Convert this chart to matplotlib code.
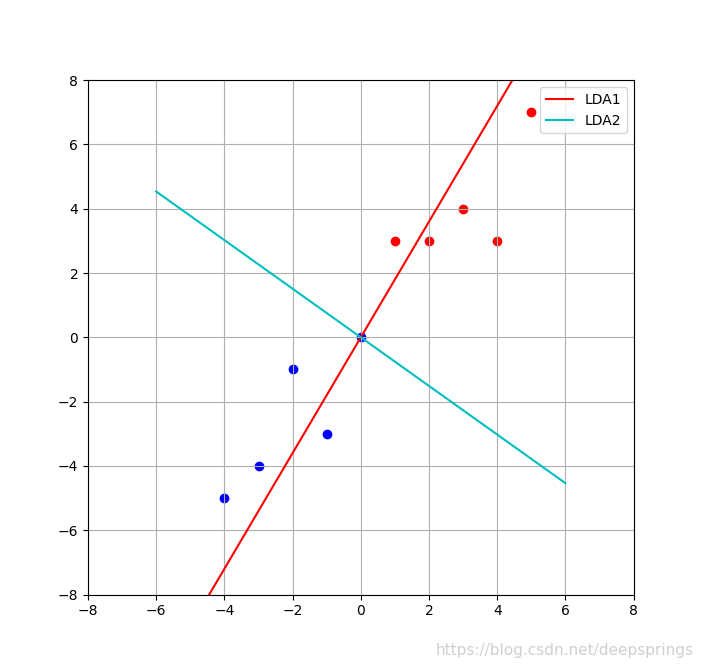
import numpy as np
import matplotlib.pyplot as plt

red_x = [1, 2, 3, 4, 5]
red_y = [3, 3, 4, 3, 7]
blue_x = [-4, -3, -2, -1, 0]
blue_y = [-5, -4, -1, -3, 0]

lda1_slope = 1.8
lda2_slope = -0.756
line_x = np.array([-6, 6])

fig = plt.figure(figsize=(7.04, 6.68), dpi=100)
ax = fig.add_subplot(111)
ax.scatter(red_x, red_y, c='r')
ax.scatter(blue_x, blue_y, c='b')
ax.plot(line_x, lda1_slope * line_x, 'r', label='LDA1')
ax.plot(line_x, lda2_slope * line_x, 'c', label='LDA2')
ax.set_xlim(-8, 8)
ax.set_ylim(-8, 8)
ax.grid(True)
ax.legend(loc='upper right')
fig.text(0.985, 0.015, 'https://blog.csdn.net/deepsprings', ha='right', va='bottom',
         color='#d0d0d0', fontsize=11)
fig.savefig('out.png')
